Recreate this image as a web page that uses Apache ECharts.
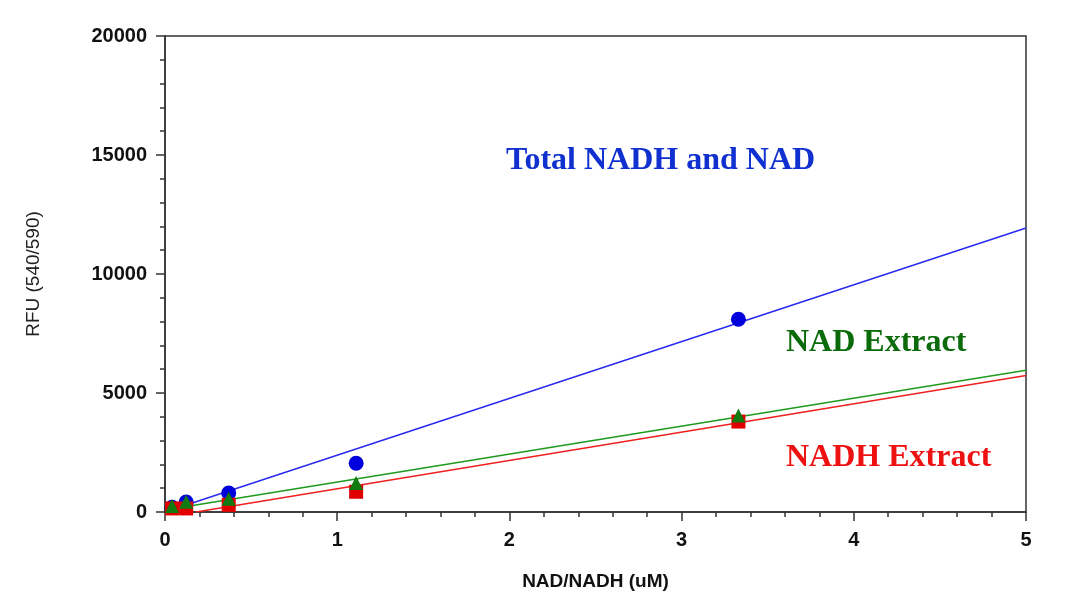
<!DOCTYPE html>
<html>
<head>
<meta charset="utf-8">
<title>NAD/NADH standard curve</title>
<script src="https://cdn.jsdelivr.net/npm/echarts@6/dist/echarts.min.js"></script>
<style>
  html, body { margin: 0; padding: 0; background: #fff; }
  #main { width: 1065px; height: 609px; }
</style>
</head>
<body>
<div id="main"></div>
<script>
// concentrations of the standards (uM)
var concentrations = [0.041, 0.123, 0.37, 1.11, 3.33];

// measured RFU
var totalNadhNad = [200, 420, 800, 2050, 8100];
var nadExtract = [250, 430, 560, 1220, 4050];
var nadhExtract = [150, 150, 300, 850, 3800];

// linear fit lines, [x, y] end points
var totalFit = [[0, 0], [5, 11930]];
var nadFit = [[0, 80], [5, 5955]];
var nadhFit = [[0.18, 0], [5, 5740]];

var xTicks = [0, 1, 2, 3, 4, 5];
var yTicks = [0, 5000, 10000, 15000, 20000];

function pairs(xs, ys) {
  return xs.map(function (x, i) { return [x, ys[i]]; });
}

var chart = echarts.init(document.getElementById('main'));

var labelFont = {
  fontFamily: 'Liberation Sans, Arial, sans-serif',
  fontWeight: 'bold',
  fontSize: 20,
  color: '#111'
};

chart.setOption({
  animation: false,
  backgroundColor: '#fff',
  grid: {
    left: 165, right: 39, top: 36, bottom: 97,
    show: true, borderColor: '#333', borderWidth: 1.5
  },
  xAxis: {
    type: 'value',
    min: xTicks[0],
    max: xTicks[xTicks.length - 1],
    interval: 1,
    name: 'NAD/NADH (uM)',
    nameLocation: 'middle',
    nameGap: 60,
    nameTextStyle: Object.assign({}, labelFont, { fontSize: 19 }),
    axisLine: { lineStyle: { color: '#333', width: 1.5 } },
    axisTick: { length: 9, lineStyle: { color: '#333', width: 1.5 } },
    minorTick: { show: true, splitNumber: 5, length: 5, lineStyle: { color: '#333', width: 1.5 } },
    splitLine: { show: false },
    axisLabel: Object.assign({ margin: 18, formatter: function (v) { return String(v); } }, labelFont)
  },
  yAxis: {
    type: 'value',
    min: yTicks[0],
    max: yTicks[yTicks.length - 1],
    interval: 5000,
    name: 'RFU (540/590)',
    nameLocation: 'middle',
    nameGap: 122,
    nameTextStyle: {
      fontFamily: 'Liberation Sans, Arial, sans-serif',
      fontSize: 19,
      color: '#222'
    },
    axisLine: { show: true, lineStyle: { color: '#333', width: 1.5 } },
    axisTick: { show: true, length: 9, lineStyle: { color: '#333', width: 1.5 } },
    minorTick: { show: true, splitNumber: 5, length: 5, lineStyle: { color: '#333', width: 1.5 } },
    splitLine: { show: false },
    axisLabel: Object.assign({ margin: 18, formatter: function (v) { return String(v); } }, labelFont)
  },
  series: [
    {
      type: 'line', data: totalFit, symbol: 'none', silent: true,
      lineStyle: { color: '#2a2af0', width: 1.5 }, z: 2
    },
    {
      type: 'line', data: nadFit, symbol: 'none', silent: true,
      lineStyle: { color: '#1e9a1e', width: 1.5 }, z: 2
    },
    {
      type: 'line', data: nadhFit, symbol: 'none', silent: true,
      lineStyle: { color: '#f02020', width: 1.5 }, z: 2
    },
    {
      name: 'Total NADH and NAD', type: 'scatter',
      data: pairs(concentrations, totalNadhNad),
      symbol: 'circle', symbolSize: 15,
      itemStyle: { color: '#0000dd', opacity: 1 }, z: 3
    },
    {
      name: 'NADH Extract', type: 'scatter',
      data: pairs(concentrations, nadhExtract),
      symbol: 'rect', symbolSize: 14,
      itemStyle: { color: '#e00000', opacity: 1 }, z: 4
    },
    {
      name: 'NAD Extract', type: 'scatter',
      data: pairs(concentrations, nadExtract),
      symbol: 'triangle', symbolSize: 14,
      itemStyle: { color: '#117a11', opacity: 1 }, z: 5
    }
  ],
  graphic: [
    {
      type: 'text', x: 506, y: 161,
      style: {
        text: 'Total NADH and NAD',
        font: 'bold 32px "Liberation Serif", "Times New Roman", serif',
        fill: '#1030d0', verticalAlign: 'middle'
      }
    },
    {
      type: 'text', x: 786, y: 343,
      style: {
        text: 'NAD Extract',
        font: 'bold 32px "Liberation Serif", "Times New Roman", serif',
        fill: '#0b6b0b', verticalAlign: 'middle'
      }
    },
    {
      type: 'text', x: 786, y: 458,
      style: {
        text: 'NADH Extract',
        font: 'bold 32px "Liberation Serif", "Times New Roman", serif',
        fill: '#ee1111', verticalAlign: 'middle'
      }
    }
  ]
});
</script>
</body>
</html>
